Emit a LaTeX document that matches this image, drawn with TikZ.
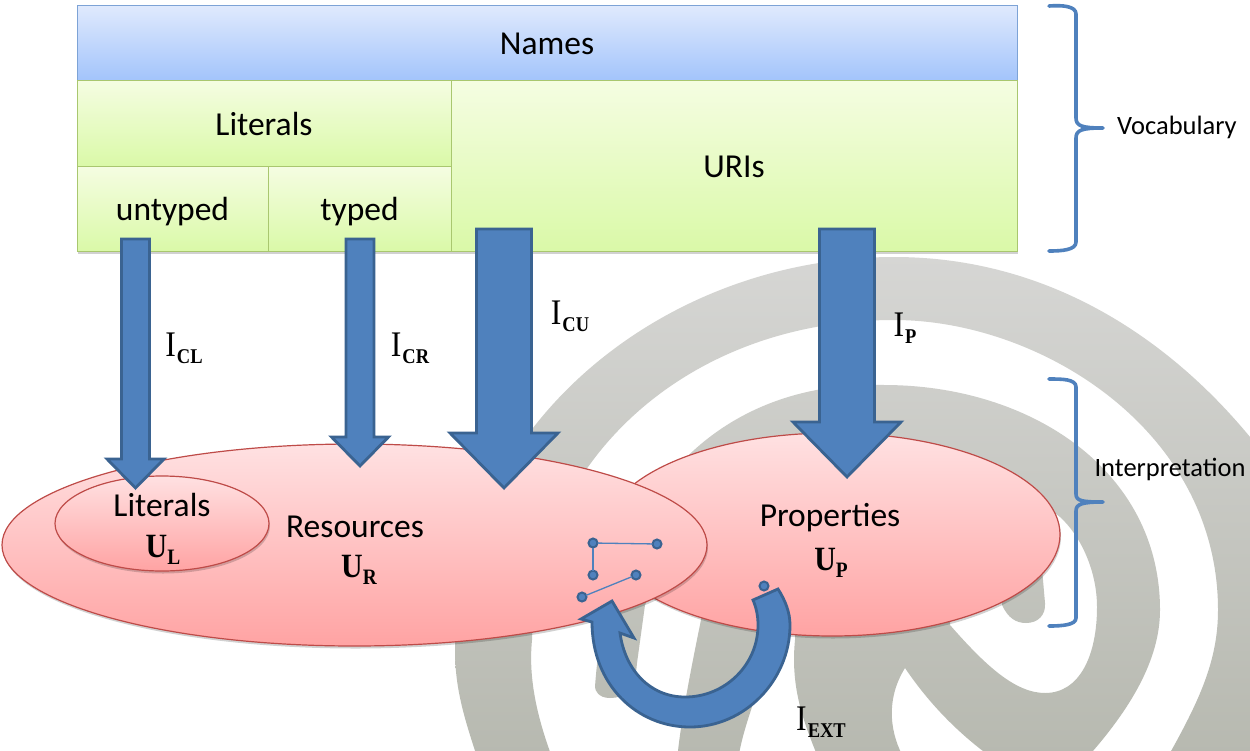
\documentclass[tikz,border=0pt]{standalone}
\usepackage{fontspec}
\setmainfont{Carlito}
\newfontfamily\mathlike[FakeStretch=0.88]{Liberation Serif}
\usetikzlibrary{shapes.geometric,shadows,calc}

\definecolor{arrowfill}{HTML}{4F81BD}
\definecolor{arrowedge}{HTML}{3A6391}
\definecolor{pinkedge}{HTML}{BE4B48}
\definecolor{greenedge}{HTML}{A9C76F}
\definecolor{blueedge}{HTML}{7DA3D6}

\tikzset{
  x=1pt, y=-1pt,
  softshadow/.style={drop shadow={shadow xshift=1pt,shadow yshift=-2.5pt,opacity=.18,fill=black}},
  bluecell/.style={rectangle,draw=blueedge,line width=1pt,
    top color={rgb,255:red,224;green,234;blue,253},bottom color={rgb,255:red,163;green,196;blue,251},
    inner sep=0pt,outer sep=0pt,font=\fontsize{33.5}{33.5}\selectfont,text height=24pt,text depth=0pt},
  greencell/.style={rectangle,draw=greenedge,line width=1pt,
    top color={rgb,255:red,245;green,253;blue,226},bottom color={rgb,255:red,218;green,249;blue,168},
    inner sep=0pt,outer sep=0pt,font=\fontsize{33.5}{33.5}\selectfont,text height=24pt,text depth=0pt},
  pinkdisc/.style={ellipse,draw=pinkedge,line width=1.2pt,
    top color={rgb,255:red,255;green,225;blue,226},bottom color={rgb,255:red,255;green,163;blue,163},
    inner sep=0pt,outer sep=0pt,softshadow},
  blockarrowstyle/.style={fill=arrowfill,draw=arrowedge,line width=2.8pt,line join=miter,miter limit=10},
  bracestyle/.style={draw=arrowfill,line width=3.6pt,line cap=round,line join=round},
  pointdot/.style={circle,fill=arrowfill,draw=arrowedge,line width=2pt,inner sep=0pt,outer sep=0pt,minimum size=9pt},
  pointlink/.style={draw=arrowfill,line width=1.3pt},
  plaintext/.style={inner sep=0pt,outer sep=0pt,font=\fontsize{33.5}{33.5}\selectfont},
  sidetext/.style={inner sep=0pt,outer sep=0pt,font=\fontsize{26.5}{26.5}\selectfont},
  mathtext/.style={inner sep=0pt,outer sep=0pt},
}

% Subscripted symbols: regular for maps, bold for universes
\newcommand{\mapsym}[1]{{\mathlike\fontsize{36}{36}\selectfont I\kern1pt\lower7pt\hbox{\bfseries\fontsize{21}{21}\selectfont #1}}}
\newcommand{\unisym}[1]{{\mathlike\bfseries\fontsize{34}{34}\selectfont U\lower7pt\hbox{\fontsize{22}{22}\selectfont #1}}}

% Vertical block arrow: start, tip, shaft width, head width, head length
\newcommand{\blockarrow}[5]{%
  \draw[blockarrowstyle] let \p1=(#1), \p2=(#2) in
    (\x1-#3/2,\y1) -- (\x1+#3/2,\y1) -- (\x1+#3/2,\y2+#5) -- (\x1+#4/2,\y2+#5)
    -- (\x2,\y2) -- (\x1-#4/2,\y2+#5) -- (\x1-#3/2,\y2+#5) -- cycle;}

\begin{document}
\begin{tikzpicture}
\useasboundingbox (0,0) rectangle (1250,750);
\fill[white] (0,0) rectangle (1250,750);

% Spiral emblem in the background
\begin{scope}
  \clip (0,0) rectangle (1250,750);
  \begin{scope}
    \clip
      % outer turn
      (478,760) .. controls (465,720) and (455,690) .. (455,650)
      .. controls (455,430) and (660,257) .. (894,257)
      .. controls (1050,257) and (1170,340) .. (1250,437)
      .. controls (1310,510) and (1350,640) .. (1350,760)
      -- (1166,760) .. controls (1200,700) and (1218,660) .. (1218,610)
      .. controls (1218,430) and (1040,320) .. (894,320)
      .. controls (680,320) and (532,470) .. (532,640)
      .. controls (528,680) and (538,720) .. (553,760) -- cycle
      % inner turn with its hook
      (595,687) .. controls (610,470) and (740,380) .. (884,385)
      .. controls (1030,385) and (1160,470) .. (1160,610)
      .. controls (1160,660) and (1130,710) .. (1085,760)
      -- (995,760) .. controls (960,735) and (930,705) .. (905,668)
      .. controls (885,700) and (890,735) .. (905,760)
      -- (819,760) .. controls (805,725) and (790,690) .. (795,640)
      -- (797,600) -- (950,600) -- (950,625)
      .. controls (985,665) and (1015,693) .. (1045,693)
      .. controls (1080,693) and (1097,655) .. (1097,607)
      .. controls (1097,570) and (1080,535) .. (1060,517)
      -- (1000,470) -- (700,470) -- (645,605) -- (637,663)
      .. controls (635,690) and (625,698) .. (610,698)
      .. controls (598,698) and (595,690) .. (595,687) -- cycle
      % middle strand
      (705,600) .. controls (695,650) and (682,710) .. (677,760)
      -- (738,760) .. controls (742,735) and (748,715) .. (790,600) -- cycle
      % short end behind the properties disc
      (1000,500) -- (1002,605) .. controls (1008,618) and (1016,623) .. (1026,623)
      .. controls (1038,623) and (1046,615) .. (1045,603) -- (1036,500) -- cycle;
    \shade[top color={rgb,255:red,214;green,214;blue,212},bottom color={rgb,255:red,183;green,185;blue,176}] (400,255) rectangle (1360,755);
  \end{scope}
\end{scope}

% Vocabulary table
\node[rectangle,minimum width=940pt,minimum height=246pt,fill=white,softshadow,inner sep=0pt] (tablebase) at (547,128) {};
\node[bluecell,minimum width=940pt,minimum height=75pt] (names) at (547,42.5) {Names};
\node[greencell,minimum width=374pt,minimum height=86pt] (literals) at (264,123) {Literals};
\node[greencell,minimum width=191pt,minimum height=85pt] (untyped) at (172.5,208.5) {untyped};
\node[greencell,minimum width=183pt,minimum height=85pt] (typed) at (359.5,208.5) {typed};
\node[greencell,minimum width=566pt,minimum height=171pt] (uris) at (734,165.5) {URIs};

% Interpretation domains
\node[pinkdisc,minimum width=456pt,minimum height=203pt] (properties) at (832,534.5) {};
\node[pinkdisc,minimum width=705pt,minimum height=202pt] (resources) at (354.5,545) {};
\node[pinkdisc,minimum width=214pt,minimum height=95pt] (literaldisc) at (162,523.5) {};

\node[plaintext] (literalstext) at (162,505) {Literals};
\node[mathtext] (ul) at (163,550) {\unisym{L}};
\node[plaintext] (resourcestext) at (355,527) {Resources};
\node[mathtext] (ur) at (359,570) {\unisym{R}};
\node[plaintext] (propertiestext) at (830,518) {Properties};
\node[mathtext] (up) at (831,563) {\unisym{P}};

% Interpretation mappings
\coordinate (clstart) at (135.5,239); \coordinate (cltip) at (135.5,488);
\coordinate (crstart) at (360,239);   \coordinate (crtip) at (360,466);
\coordinate (custart) at (504,229);   \coordinate (cutip) at (504,488);
\coordinate (pstart) at (847,229);    \coordinate (ptip) at (847,477);
\blockarrow{clstart}{cltip}{28pt}{57pt}{29pt}
\blockarrow{crstart}{crtip}{28pt}{57pt}{29pt}
\blockarrow{custart}{cutip}{55pt}{108pt}{55pt}
\blockarrow{pstart}{ptip}{55pt}{108pt}{55pt}

% Property extension points
\node[pointdot] (p1) at (593,543) {};
\node[pointdot] (p2) at (657,544) {};
\node[pointdot] (p3) at (593,575) {};
\node[pointdot] (p4) at (636,575) {};
\node[pointdot] (p5) at (582,597) {};
\node[pointdot] (p6) at (764,586) {};
\path[pointlink] (p1) -- (p2);
\path[pointlink] (p1) -- (p3);
\path[pointlink] (p4) -- (p5);

% Curved extension arrow
\draw[blockarrowstyle]
  (778,589) .. controls (785,600) and (790,612) .. (790,625)
  .. controls (790,680) and (745,727) .. (690,727)
  .. controls (637,727) and (592,685) .. (592,622)
  -- (581,619) -- (612,601) -- (634,638) -- (620,633)
  .. controls (625,670) and (650,697) .. (685,697)
  .. controls (725,697) and (758,665) .. (758,625)
  .. controls (758,615) and (756,607) .. (753,600)
  -- cycle;

% Side braces
\draw[bracestyle] (1049,6) .. controls (1062,5) and (1076,6) .. (1076,14) -- (1076,118)
  .. controls (1076,126) and (1082,128) .. (1103,128) .. controls (1082,128) and (1076,130) .. (1076,138)
  -- (1076,242) .. controls (1076,250) and (1062,251) .. (1049,251);
\draw[bracestyle] (1049,379) .. controls (1062,379) and (1076,379) .. (1076,387) -- (1076,494)
  .. controls (1076,501) and (1082,502) .. (1103,502) .. controls (1082,502) and (1076,504) .. (1076,511)
  -- (1076,618) .. controls (1076,625) and (1062,626) .. (1049,626);
\node[sidetext] (vocabulary) at (1177,127.5) {Vocabulary};
\node[sidetext] (interpretation) at (1170,469.5) {Interpretation};

% Mapping labels
\node[mathtext] (icl) at (184,348) {\mapsym{CL}};
\node[mathtext] (icr) at (410,348) {\mapsym{CR}};
\node[mathtext] (icu) at (570,316) {\mapsym{CU}};
\node[mathtext] (ip) at (905,328) {\mapsym{P}};
\node[mathtext] (iext) at (821,722) {\mapsym{EXT}};
\end{tikzpicture}
\end{document}
